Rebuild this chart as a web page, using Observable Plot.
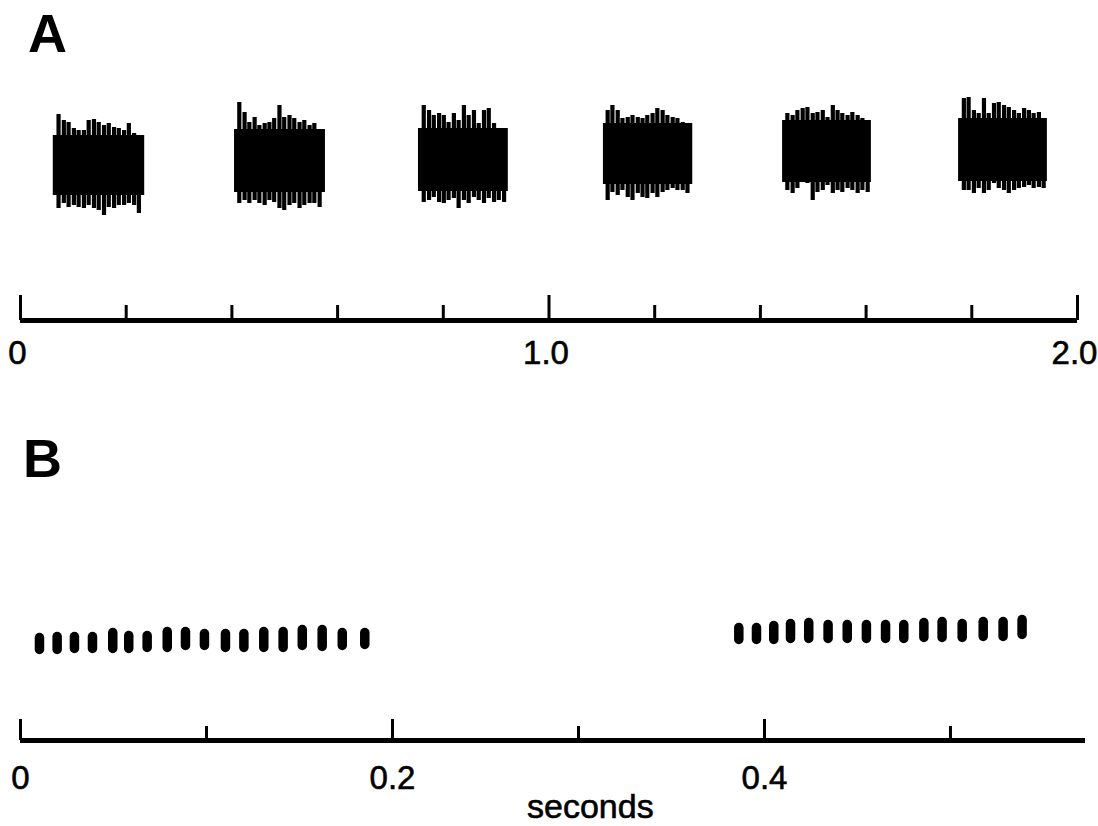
<!DOCTYPE html>
<html>
<head>
<meta charset="utf-8">
<script src="https://cdn.jsdelivr.net/npm/d3@7"></script>
<script src="https://cdn.jsdelivr.net/npm/@observablehq/plot@0.6"></script>
<style>
  html, body { margin: 0; padding: 0; background: #fff; }
  #root { position: relative; width: 1098px; height: 826px; overflow: hidden;
          font-family: "Liberation Sans", Arial, Helvetica, sans-serif; color: #000; }
  .panel-label { position: absolute; font-weight: bold; font-size: 54px; line-height: 1; }
  #plotA { position: absolute; left: 0; top: 80px; }
  #plotB { position: absolute; left: 0; top: 480px; }
  #caption { position: absolute; left: 527px; top: 793px; font-size: 34px; line-height: 0.8;
             -webkit-text-stroke: 0.6px #000; }
  svg { overflow: visible; }
  g[aria-label="x-axis tick label"] text { stroke: #000; stroke-width: 0.6px; }
</style>
</head>
<body>
<div id="root">
  <div class="panel-label" style="left:28px;top:6px;">A</div>
  <div id="plotA"></div>
  <div class="panel-label" style="left:23px;top:431px;">B</div>
  <div id="plotB"></div>
  <div id="caption">seconds</div>
</div>
<script>
// ---------------- Panel A: six song bursts over 2 s ----------------
const burstStart  = [0.062, 0.405, 0.753, 1.103, 1.442, 1.775];
const burstEnd    = [0.235, 0.577, 0.923, 1.272, 1.610, 1.943];
const burstCoreHi = [30, 36, 37, 42, 45, 47];
const burstCoreLo = [-30, -27, -26, -19, -17, -16];

const spikeTimes = [
  [0.072, 0.082, 0.091, 0.101, 0.110, 0.120, 0.129, 0.139, 0.148, 0.158, 0.167, 0.177, 0.186, 0.196, 0.205, 0.215, 0.224],
  [0.414, 0.424, 0.433, 0.443, 0.452, 0.462, 0.471, 0.480, 0.490, 0.499, 0.509, 0.518, 0.528, 0.537, 0.547, 0.556, 0.566],
  [0.763, 0.773, 0.782, 0.792, 0.801, 0.810, 0.820, 0.829, 0.839, 0.848, 0.858, 0.867, 0.877, 0.886, 0.896, 0.905, 0.915],
  [1.111, 1.120, 1.130, 1.139, 1.149, 1.158, 1.168, 1.177, 1.186, 1.196, 1.205, 1.215, 1.224, 1.234, 1.243, 1.253, 1.262],
  [1.451, 1.461, 1.470, 1.480, 1.489, 1.499, 1.508, 1.518, 1.527, 1.537, 1.546, 1.555, 1.565, 1.574, 1.584, 1.593, 1.603],
  [1.785, 1.794, 1.804, 1.813, 1.823, 1.832, 1.842, 1.851, 1.861, 1.870, 1.880, 1.889, 1.899, 1.908, 1.917, 1.927, 1.936]
];
const spikeHi = [
  [51, 45, 43, 37, 35, 35, 45, 46, 43, 40, 42, 38, 37, 35, 42, 32, 22],
  [63, 53, 43, 48, 40, 42, 43, 47, 60, 48, 50, 47, 43, 45, 40, 42, 35],
  [60, 55, 50, 52, 50, 43, 52, 45, 60, 50, 55, 42, 55, 57, 42, 37, 35],
  [55, 60, 55, 47, 48, 50, 48, 47, 50, 52, 57, 55, 50, 48, 47, 43, 38],
  [52, 50, 55, 57, 58, 52, 53, 55, 48, 60, 55, 52, 50, 53, 50, 47, 43],
  [67, 68, 55, 52, 67, 52, 62, 63, 60, 58, 55, 52, 57, 55, 52, 53, 45]
];
const spikeLo = [
  [-43, -38, -42, -40, -42, -43, -40, -43, -45, -50, -42, -43, -40, -40, -38, -40, -48],
  [-38, -35, -38, -35, -38, -40, -35, -37, -43, -45, -40, -38, -43, -40, -38, -38, -42],
  [-37, -35, -32, -37, -38, -35, -33, -43, -35, -38, -32, -35, -38, -33, -37, -35, -37],
  [-35, -27, -30, -25, -32, -35, -28, -32, -33, -28, -32, -27, -25, -23, -25, -25, -28],
  [-25, -28, -23, -17, -18, -35, -27, -25, -20, -28, -25, -27, -23, -25, -28, -25, -27],
  [-25, -25, -28, -23, -28, -25, -18, -23, -25, -28, -25, -23, -22, -20, -23, -22, -23]
];

const xDomainA = [0, 2.0];
const yDomainA = [-155, 85];
const ticksAMajor = [0, 1.0, 2.0];
const ticksAMinor = [0.2, 0.4, 0.6, 0.8, 1.2, 1.4, 1.6, 1.8];
const ticksALabels = [0, 1.0, 2.0];

// ---------------- Panel B: two bursts, individual pulses ----------------
const pulseTimes1 = [0.0102, 0.0197, 0.0290, 0.0387, 0.0496, 0.0582, 0.0681, 0.0789, 0.0887,
                     0.0989, 0.1102, 0.1201, 0.1308, 0.1412, 0.1515, 0.1622, 0.1730, 0.1851];
const pulseHi1 = [7, 8, 8, 8, 12, 9, 9, 13, 13, 11, 11, 11, 13, 13, 15, 15, 12, 12];
const pulseLo1 = [-14, -14, -13, -13, -13, -13, -12, -12, -10, -10, -12, -12, -12, -12, -10, -11, -10, -9];

const pulseTimes2 = [0.3862, 0.3957, 0.4050, 0.4140, 0.4238, 0.4342, 0.4445, 0.4548,
                     0.4651, 0.4749, 0.4857, 0.4955, 0.5063, 0.5176, 0.5283, 0.5385];
const pulseHi2 = [17, 17, 19, 21, 22, 20, 20, 20, 20, 20, 22, 23, 21, 23, 23, 25];
const pulseLo2 = [-4, -4, -4, -3, -3, -3, -3, -3, -3, -3, -2, -2, -2, -1, -1, 1];

const xDomainB = [0, 0.5726];
const yDomainB = [-100, 160];
const ticksBMajor = [0, 0.2, 0.4];
const ticksBMinor = [0.1, 0.3, 0.5];
const ticksBLabels = [0, 0.2, 0.4];

// ---------------- build tables ----------------
const bursts = burstStart.map((s, i) => ({start: s, end: burstEnd[i], hi: burstCoreHi[i], lo: burstCoreLo[i]}));
const spikes = spikeTimes.flatMap((ts, b) => ts.map((t, j) => ({t, hi: spikeHi[b][j], lo: spikeLo[b][j]})));
const pulses = [
  ...pulseTimes1.map((t, i) => ({t, hi: pulseHi1[i], lo: pulseLo1[i]})),
  ...pulseTimes2.map((t, i) => ({t, hi: pulseHi2[i], lo: pulseLo2[i]}))
];

const font = '"Liberation Sans", Arial, Helvetica, sans-serif';
const fmt = d => d === 0 ? "0" : (Number.isInteger(d) ? d.toFixed(1) : String(d));

// Panel A
const hA = 300, mbA = 60, frameHA = hA - mbA;
const plotA = Plot.plot({
  width: 1098, height: hA,
  marginLeft: 20, marginRight: 21, marginTop: 0, marginBottom: mbA,
  style: {fontFamily: font, background: "transparent", overflow: "visible"},
  x: {domain: xDomainA},
  y: {domain: yDomainA, axis: null},
  marks: [
    Plot.rect(bursts, {x1: "start", x2: "end", y1: "lo", y2: "hi", fill: "black"}),
    Plot.ruleX(spikes, {x: "t", y1: "hi", y2: "lo", stroke: "black", strokeWidth: 4.2}),
    Plot.ruleY([yDomainA[0]], {stroke: "black", strokeWidth: 5}),
    Plot.ruleX(ticksAMajor, {stroke: "black", strokeWidth: 3, insetTop: frameHA - 25}),
    Plot.ruleX(ticksAMinor, {stroke: "black", strokeWidth: 3, insetTop: frameHA - 15}),
    Plot.axisX(ticksALabels, {tickSize: 0, tickPadding: 20, fontSize: 33, dx: -3, tickFormat: fmt, label: null})
  ]
});
document.getElementById("plotA").appendChild(plotA);

// Panel B
const hB = 310, mbB = 50, frameHB = hB - mbB;
const plotB = Plot.plot({
  width: 1098, height: hB,
  marginLeft: 20, marginRight: 13, marginTop: 0, marginBottom: mbB,
  style: {fontFamily: font, background: "transparent", overflow: "visible"},
  x: {domain: xDomainB},
  y: {domain: yDomainB, axis: null},
  marks: [
    Plot.ruleX(pulses, {x: "t", y1: "hi", y2: "lo", stroke: "black", strokeWidth: 9.5,
                        strokeLinecap: "round", insetTop: 4.5, insetBottom: 4.5}),
    Plot.ruleY([yDomainB[0]], {stroke: "black", strokeWidth: 5}),
    Plot.ruleX(ticksBMajor, {stroke: "black", strokeWidth: 3, insetTop: frameHB - 21}),
    Plot.ruleX(ticksBMinor, {stroke: "black", strokeWidth: 3, insetTop: frameHB - 14}),
    Plot.axisX(ticksBLabels, {tickSize: 0, tickPadding: 25, fontSize: 33, tickFormat: fmt, label: null})
  ]
});
document.getElementById("plotB").appendChild(plotB);
</script>
</body>
</html>
